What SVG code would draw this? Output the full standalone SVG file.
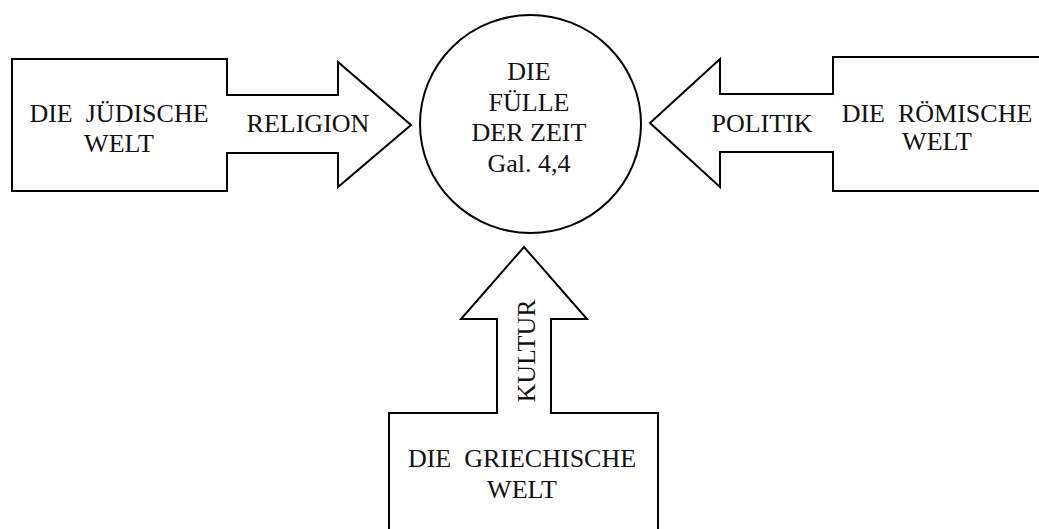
<svg xmlns="http://www.w3.org/2000/svg" width="1039" height="529" viewBox="0 0 1039 529">
<style>
.shape{fill:#fff;stroke:#000;stroke-width:2;stroke-linejoin:miter}
text{font-family:"Liberation Serif","Times New Roman",serif;font-size:26px;fill:#111;text-anchor:middle;white-space:pre}
</style>
<rect width="1039" height="529" fill="#fff"/>
<g id="connectors">
<path id="arrow-religion" class="shape" d="M12,59 H227 V95 H338 V62 L411,125 L338,187 V153 H227 V191 H12 Z"/>
<path id="arrow-politik" class="shape" d="M1045,57 H833 V94 H720 V59 L650,123 L720,187 V152 H833 V191 H1045"/>
<path id="arrow-kultur" class="shape" d="M389,535 V413 H497 V319 H461 L524,247 L587,319 H551 V413 H658 V535"/>
</g>
<g id="node-juedische">
<text x="119" y="122" xml:space="preserve">DIE  JÜDISCHE</text>
<text x="119" y="152">WELT</text>
<text x="308" y="132">RELIGION</text>
</g>
<g id="node-roemische">
<text x="937" y="122" xml:space="preserve">DIE  RÖMISCHE</text>
<text x="937" y="150">WELT</text>
<text x="762" y="132">POLITIK</text>
</g>
<g id="node-griechische">
<text x="522" y="467" xml:space="preserve">DIE  GRIECHISCHE</text>
<text x="522" y="498">WELT</text>
<text transform="translate(535,351) rotate(-90)">KULTUR</text>
</g>
<g id="node-fuelle">
<ellipse class="shape" cx="530.5" cy="124" rx="110.5" ry="109"/>
<text x="529" y="80">DIE</text>
<text x="529" y="111">FÜLLE</text>
<text x="529" y="141">DER ZEIT</text>
<text x="529" y="172">Gal. 4,4</text>
</g>
</svg>
